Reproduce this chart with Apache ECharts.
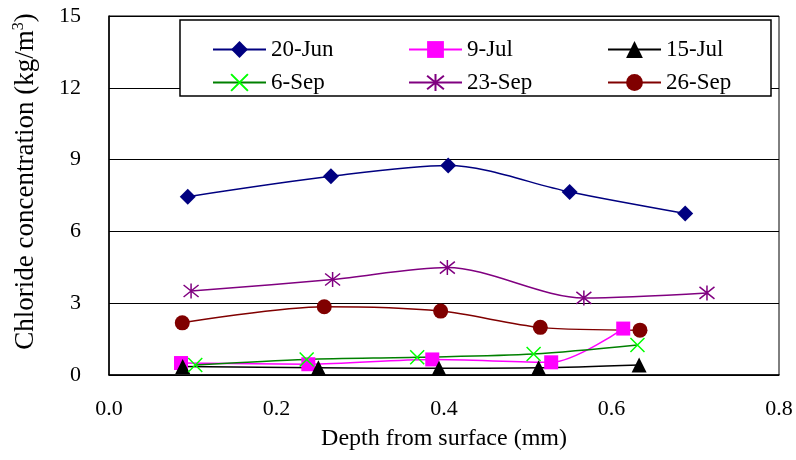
<!DOCTYPE html>
<html>
<head>
<meta charset="utf-8">
<script src="https://cdn.jsdelivr.net/npm/echarts@6/dist/echarts.min.js"></script>
<style>
html, body { margin: 0; padding: 0; background: #fff; }
#chart { width: 796px; height: 460px; }
</style>
</head>
<body>
<div id="chart"></div>
<script>
var dom = document.getElementById("chart");
var myChart = echarts.init(dom);

// depth (mm) / chloride concentration (kg/m3)
var jun20X = [0.094, 0.265, 0.405, 0.55, 0.688];
var jun20Y = [7.45, 8.3, 8.75, 7.65, 6.75];
var jul9X = [0.086, 0.238, 0.386, 0.528, 0.614];
var jul9Y = [0.5, 0.45, 0.65, 0.53, 1.94];
var jul15X = [0.088, 0.25, 0.394, 0.513, 0.633];
var jul15Y = [0.35, 0.3, 0.28, 0.3, 0.42];
var sep6X = [0.103, 0.236, 0.368, 0.507, 0.631];
var sep6Y = [0.42, 0.65, 0.74, 0.875, 1.25];
var sep23X = [0.098, 0.267, 0.404, 0.567, 0.714];
var sep23Y = [3.51, 3.99, 4.49, 3.22, 3.43];
var sep26X = [0.0875, 0.257, 0.396, 0.515, 0.634];
var sep26Y = [2.18, 2.85, 2.67, 1.99, 1.875];

var xTicks = [0, 0.2, 0.4, 0.6, 0.8];
var yTicks = [0, 3, 6, 9, 12, 15];

function pairs(xs, ys) {
	return xs.map(function (x, i) { return [x, ys[i]]; });
}

var font = 'Liberation Serif';
var crossPath = 'path://M0,0L10,10M10,0L0,10';
var starPath = 'path://M0,1L10,9M10,1L0,9M5,0L5,10';

function line(name, data, color, symbol, size, markColor, stroke) {
	return {
		name: name,
		type: 'line',
		smooth: 0.3,
		data: data,
		symbol: symbol,
		symbolSize: size,
		lineStyle: { color: color, width: 1.5 },
		itemStyle: stroke
			? { color: markColor, borderColor: markColor, borderWidth: 1.5 }
			: { color: markColor, borderWidth: 0 },
		emphasis: { disabled: true }
	};
}

function legendAt(name, left, top) {
	return {
		data: [name],
		left: left,
		top: top,
		itemWidth: 53,
		itemHeight: 21,
		itemGap: 0,
		textStyle: { fontFamily: font, fontSize: 23, color: '#000' },
		selectedMode: false
	};
}

option = {
	animation: false,
	grid: {
		left: 109, right: 17, top: 16, bottom: 85,
		show: true, borderColor: '#000', borderWidth: 1
	},
	graphic: [{
		type: 'rect',
		z: 3,
		silent: true,
		shape: { x: 180, y: 20, width: 591, height: 76 },
		style: { fill: '#fff', stroke: '#000', lineWidth: 1.5 }
	}],
	legend: [
		legendAt('20-Jun', 207, 33),
		legendAt('9-Jul', 403, 33),
		legendAt('15-Jul', 602, 33),
		legendAt('6-Sep', 207, 66),
		legendAt('23-Sep', 403, 66),
		legendAt('26-Sep', 602, 66)
	],
	xAxis: {
		type: 'value',
		min: xTicks[0],
		max: xTicks[xTicks.length - 1],
		interval: 0.2,
		name: 'Depth from surface (mm)',
		nameLocation: 'middle',
		nameGap: 52,
		nameTextStyle: { fontFamily: font, fontSize: 24, color: '#000' },
		axisLine: { lineStyle: { color: '#000', width: 1.5 } },
		axisTick: { show: false },
		splitLine: { show: false },
		axisLabel: {
			margin: 23,
			fontFamily: font, fontSize: 22, color: '#000',
			formatter: function (v) { return v.toFixed(1); }
		}
	},
	yAxis: {
		type: 'value',
		min: yTicks[0],
		max: yTicks[yTicks.length - 1],
		interval: 3,
		name: 'Chloride concentration (kg/m{sup|3})',
		nameLocation: 'middle',
		nameGap: 69,
		nameTextStyle: {
			fontFamily: font, fontSize: 27, color: '#000',
			padding: [0, 0, 0, 28],
			rich: { sup: { fontFamily: font, fontSize: 16, verticalAlign: 'top', padding: [0, 0, 13, 0] } }
		},
		axisLine: { show: true, lineStyle: { color: '#000', width: 1.5 } },
		axisTick: { show: false },
		splitLine: { lineStyle: { color: '#000', width: 1.2 } },
		axisLabel: { margin: 28, fontFamily: font, fontSize: 22, color: '#000' }
	},
	series: [
		line('20-Jun', pairs(jun20X, jun20Y), '#000080', 'diamond', 16, '#000080', false),
		line('9-Jul', pairs(jul9X, jul9Y), '#FF00FF', 'rect', 14, '#FF00FF', false),
		line('15-Jul', pairs(jul15X, jul15Y), '#000000', 'triangle', 15, '#000000', false),
		line('6-Sep', pairs(sep6X, sep6Y), '#008000', crossPath, 14, '#00FF00', true),
		line('23-Sep', pairs(sep23X, sep23Y), '#800080', starPath, 15, '#800080', true),
		line('26-Sep', pairs(sep26X, sep26Y), '#800000', 'circle', 15, '#800000', false)
	]
};

if (option && typeof option === "object") {
	myChart.setOption(option, true);
}
window.onresize = function () {
	myChart.resize();
};
</script>
</body>
</html>
